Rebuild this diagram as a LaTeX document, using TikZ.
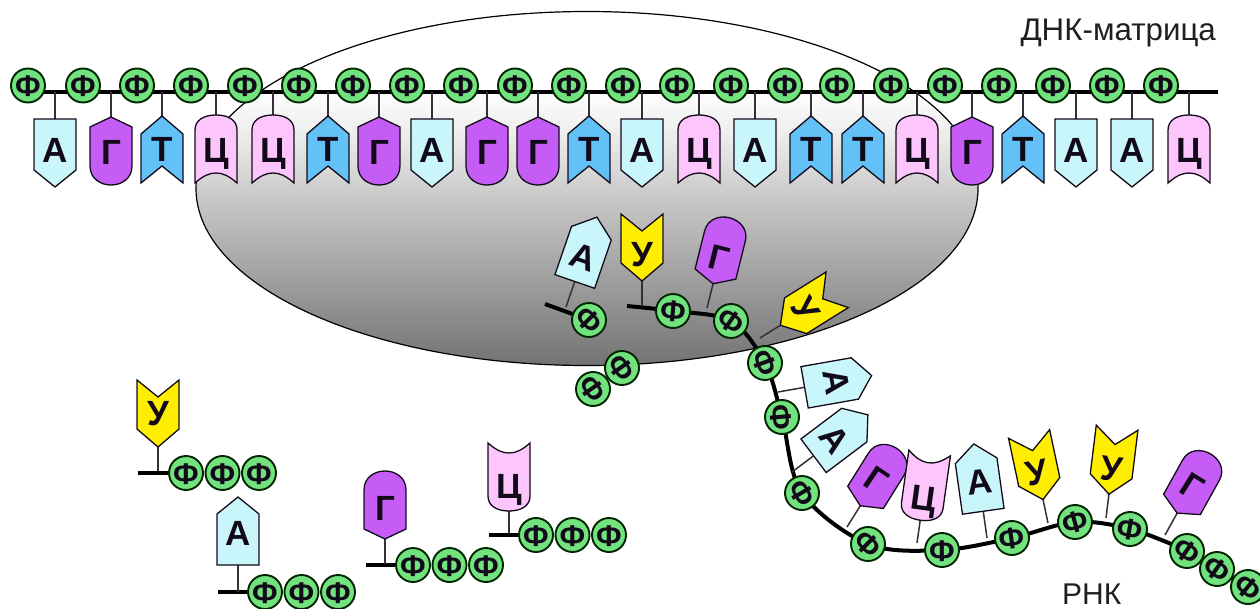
\documentclass[tikz,border=0pt]{standalone}
\usepackage{fontspec}
\setmainfont{Liberation Sans}
\definecolor{adenine}{HTML}{C8F6FB}
\definecolor{guanine}{HTML}{C65CF6}
\definecolor{thymine}{HTML}{62C1F7}
\definecolor{cytosine}{HTML}{FCC6FC}
\definecolor{uracil}{HTML}{FFEE00}
\definecolor{phosphate}{HTML}{72E27E}
\definecolor{ink}{HTML}{120A18}
\pgfdeclarelayer{cell}
\pgfdeclarelayer{strand}
\pgfsetlayers{cell,strand,main}
\pgfdeclareverticalshading{cellgrey}{100bp}{
  color(0bp)=(black!55); color(25bp)=(black!55); color(34bp)=(black!42);
  color(48.4bp)=(black!22); color(57bp)=(black!8); color(64bp)=(white); color(100bp)=(white)}
\tikzset{
  hull/.style={draw=ink,line width=1.3pt,line join=miter},
  stem/.style={draw=ink!85,line width=1.5pt},
  backbone/.style={draw=black,line width=4pt},
  phos/.style={circle,draw=black!85!green,line width=1.9pt,fill=phosphate,minimum size=34pt,inner sep=0pt,
    text=ink,font=\bfseries\fontsize{30}{30}\selectfont,text height=22pt,text depth=0pt},
  lett/.style={inner sep=0pt,text=ink,font=\bfseries\fontsize{35}{35}\selectfont,text height=25pt,text depth=0pt},
  caption/.style={inner sep=0pt,text=black!88,font=\fontsize{30}{30}\selectfont}
}
% Base outlines, drawn with the sugar-side stem coming in from negative y
\newcommand{\outlineA}{(-21,27) -- (21,27) -- (21,78) -- (0,95) -- (-21,78) -- cycle}
\newcommand{\outlineG}{(0,25) -- (21,35) -- (21,74) .. controls (21,87) and (10,93) .. (0,93) .. controls (-10,93) and (-21,87) .. (-21,74) -- (-21,35) -- cycle}
\newcommand{\outlineT}{(0,24) -- (21,42) -- (21,91) -- (0,74) -- (-21,91) -- (-21,42) -- cycle}
\newcommand{\outlineC}{(0,23) .. controls (12,23) and (21,28) .. (21,38) -- (21,91) .. controls (13,84) and (7,81) .. (0,81) .. controls (-7,81) and (-13,84) .. (-21,91) -- (-21,38) .. controls (-21,28) and (-12,23) .. (0,23) -- cycle}
% #1 name, #2 #3 root on the strand, #4 body angle, #5 outline macro, #6 fill,
% #7 letter, #8 letter angle, #9 letter distance from the root
\newcommand{\nucl}[9]{%
  \begin{scope}[shift={(#2,#3)},rotate=#4]
    \coordinate (#1-root) at (0,0);
    \coordinate (#1-neck) at (0,27);
    \draw[stem] (#1-root) -- (#1-neck);
    \draw[hull,fill=#6] #5;
    \node[lett,rotate=#8] (#1) at (0,#9) {#7};
  \end{scope}}
\newcommand{\dnaA}[2]{\nucl{#1}{#2}{92}{0}{\outlineA}{adenine}{А}{0}{57.5}}
\newcommand{\dnaG}[2]{\nucl{#1}{#2}{92}{0}{\outlineG}{guanine}{Г}{0}{60}}
\newcommand{\dnaT}[2]{\nucl{#1}{#2}{92}{0}{\outlineT}{thymine}{Т}{0}{57}}
\newcommand{\dnaC}[2]{\nucl{#1}{#2}{92}{0}{\outlineC}{cytosine}{Ц}{0}{58}}
\begin{document}
\begin{tikzpicture}[x=1pt,y=-1pt]
\useasboundingbox (0,0) rectangle (1260,608);

% Polymerase body
\begin{pgfonlayer}{cell}
  \shade[shading=cellgrey] (587,188.5) ellipse [x radius=391,y radius=177];
  \draw[black,line width=1.2pt] (587,188.5) ellipse [x radius=391,y radius=177];
\end{pgfonlayer}

% Template strand
\foreach \px [count=\i] in {28,83,137,191,245,299,353,407,461,515,569,623,677,731,785,837,891,945,999,1053,1107,1161}
  \node[phos] (d\i) at (\px,85.5) {Ф};
\begin{pgfonlayer}{strand}
  \coordinate (dna-start) at (28,92);
  \coordinate (dna-end) at (1218,92);
  \draw[backbone] (dna-start) -- (dna-end);
\end{pgfonlayer}
\dnaA{b1}{55}   \dnaG{b2}{111}  \dnaT{b3}{162}  \dnaC{b4}{216}
\dnaC{b5}{273}  \dnaT{b6}{328}  \dnaG{b7}{379}  \dnaA{b8}{432}
\dnaG{b9}{487}  \dnaG{b10}{538} \dnaT{b11}{589} \dnaA{b12}{642}
\dnaC{b13}{699} \dnaA{b14}{755} \dnaT{b15}{811} \dnaT{b16}{863}
\dnaC{b17}{917} \dnaG{b18}{972} \dnaT{b19}{1023} \dnaA{b20}{1076}
\dnaA{b21}{1132} \dnaC{b22}{1189}

% Transcript inside and leaving the polymerase
\coordinate (m-start) at (627,306);
\node[phos,rotate=-5]  (m1) at (673,311) {Ф};
\node[phos,rotate=-35] (m2) at (731,321) {Ф};
\node[phos,rotate=-70] (m3) at (765,363) {Ф};
\node[phos,rotate=-85] (m4) at (782,417) {Ф};
\node[phos,rotate=-60] (m5) at (802,493) {Ф};
\node[phos,rotate=-45] (m6) at (868,544) {Ф};
\node[phos]            (m7) at (942,550) {Ф};
\node[phos,rotate=8]   (m8) at (1012,538) {Ф};
\node[phos,rotate=15]  (m9) at (1075,522) {Ф};
\node[phos,rotate=-10] (m10) at (1130,529) {Ф};
\node[phos,rotate=-35] (m11) at (1187,551) {Ф};
\node[phos,rotate=-35] (m12) at (1217,569) {Ф};
\node[phos,rotate=-40] (m13) at (1248,587) {Ф};
\begin{pgfonlayer}{strand}
  \draw[backbone,line join=round] plot[smooth,tension=.55] coordinates
    {(m-start) (m1) (m2) (m3) (m4) (m5) (m6) (m7) (m8) (m9) (m10) (m11) (m12) (m13)};
\end{pgfonlayer}
\nucl{r1}{642}{305}{180}{\outlineT}{uracil}{У}{0}{51}
\nucl{r2}{707}{308}{166}{\outlineG}{guanine}{Г}{-14}{52}
\nucl{r3}{760}{338}{122}{\outlineT}{uracil}{У}{-58}{54}
\nucl{r4}{778}{392}{100}{\outlineA}{adenine}{А}{-80}{60}
\nucl{r5}{792}{472}{127}{\outlineA}{adenine}{А}{-53}{54}
\nucl{r6}{847}{527}{148}{\outlineG}{guanine}{Г}{-34}{56}
\nucl{r7}{917}{543}{172}{\outlineC}{cytosine}{Ц}{-8}{46}
\nucl{r8}{987}{538}{188}{\outlineA}{adenine}{А}{7}{57}
\nucl{r9}{1048}{523}{192}{\outlineT}{uracil}{У}{11}{52}
\nucl{r10}{1106}{518}{173}{\outlineT}{uracil}{У}{-7}{50}
\nucl{r11}{1165}{535}{151}{\outlineG}{guanine}{Г}{-32}{56}

% Last nucleotide added, with its released pyrophosphate
\node[phos,rotate=-45] (n1) at (589,320) {Ф};
\coordinate (n-start) at (545,304);
\begin{pgfonlayer}{strand}
  \draw[backbone] (n-start) -- (n1);
\end{pgfonlayer}
\nucl{r0}{566}{307}{161}{\outlineA}{adenine}{А}{-19}{53.5}
\node[phos,rotate=-55] (pp1) at (622,368) {Ф};
\node[phos,rotate=-55] (pp2) at (593,389) {Ф};

% Free nucleoside triphosphates
\newcommand{\triple}[4]{%
  \node[phos] (#1-a) at (#3,#4) {Ф};
  \node[phos] (#1-b) at ({#3+36.5},#4) {Ф};
  \node[phos] (#1-c) at ({#3+73},#4) {Ф};
  \coordinate (#1-start) at (#2,#4);
  \begin{pgfonlayer}{strand}
    \draw[backbone] (#1-start) -- (#1-a);
  \end{pgfonlayer}}
\triple{tu}{138}{186}{473}
\nucl{fu}{158}{471}{180}{\outlineT}{uracil}{У}{0}{58}
\triple{ta}{218}{265}{592}
\nucl{fa}{238}{592}{180}{\outlineA}{adenine}{А}{0}{59}
\triple{tg}{366}{413}{565}
\nucl{fg}{385}{564}{180}{\outlineG}{guanine}{Г}{0}{56}
\triple{tc}{489}{536}{535}
\nucl{fc}{509}{534}{180}{\outlineC}{cytosine}{Ц}{0}{48}

% Strand names
\node[caption,anchor=base east,font=\fontsize{31.3}{31.3}\selectfont] (dna-label) at (1216,40) {ДНК-матрица};
\node[caption,anchor=base west] (rna-label) at (1062,604) {РНК};
\end{tikzpicture}
\end{document}
